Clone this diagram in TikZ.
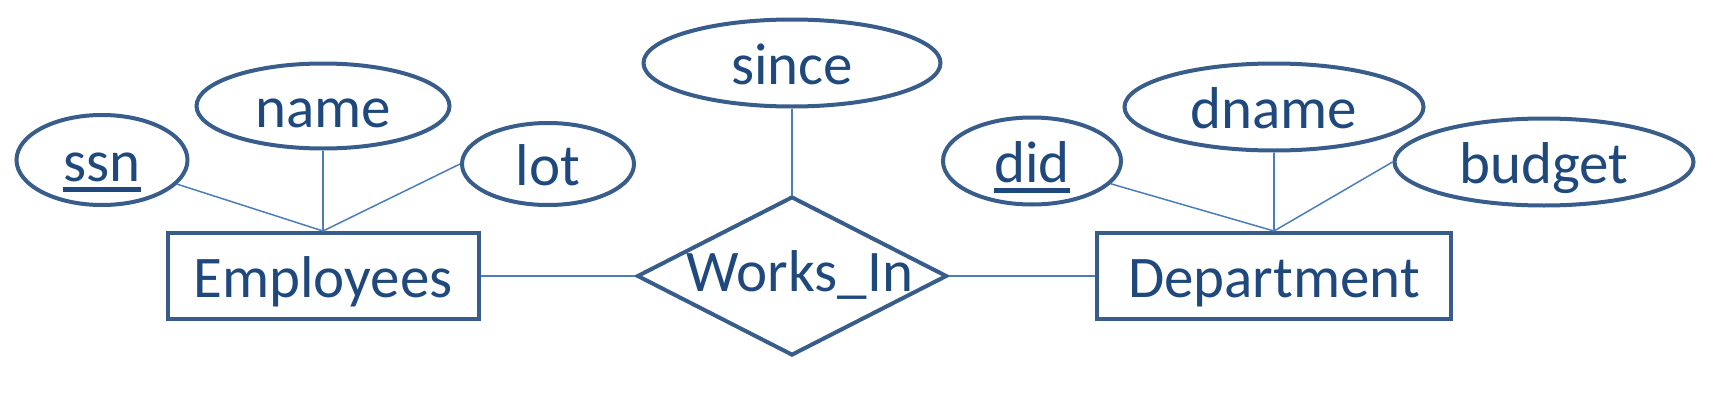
\documentclass[tikz,border=0pt]{standalone}
\usepackage{fontspec}
\setmainfont{Carlito}
\usetikzlibrary{positioning,shapes.geometric}
\definecolor{edgeblue}{HTML}{385D8A}
\definecolor{txtblue}{HTML}{1F497D}
\definecolor{lineblue}{HTML}{4A7EBB}
\newcommand{\keyattr}[1]{\setbox0\hbox{#1}\rlap{\rule[-5.3pt]{\wd0}{2.5pt}}\box0}
\begin{document}
\begin{tikzpicture}[
  on grid,
  er/.style={draw=edgeblue,line width=2pt,text=txtblue,inner sep=0pt,
             font=\fontsize{29.5}{35}\selectfont,text height=21pt,text depth=0pt},
  entity/.style={er,rectangle,minimum height=43pt},
  attr/.style={er,ellipse,minimum height=43.5pt},
  rel/.style={er,diamond,minimum width=155pt,minimum height=79.5pt,text height=15pt},
  ln/.style={draw=lineblue,line width=0.75pt}]
\useasboundingbox (0,0) rectangle (862pt,-206pt);
\node[entity,minimum width=155.5pt] (emp) at (161.5pt,-138pt) {Employees};
\node[rel,right=234.5pt of emp] (works) {\makebox[0pt]{\hspace{8pt}Works\_In}};
\node[entity,minimum width=177pt,right=241pt of works] (dept) {Department};
\node[attr,minimum width=85.5pt,minimum height=45pt,above left=58pt and 110.5pt of emp] (ssn) {\keyattr{ssn}};
\node[attr,minimum width=126.5pt,minimum height=42.5pt,above=85pt of emp] (name) {name};
\node[attr,minimum width=86pt,minimum height=41pt,above right=56pt and 112.5pt of emp] (lot) {lot};
\node[attr,minimum width=148.5pt,above=106.5pt of works] (since) {since};
\node[attr,minimum width=89pt,above left=57.5pt and 121pt of dept] (did) {\keyattr{did}};
\node[attr,minimum width=149.5pt,above=84.5pt of dept] (dname) {dname};
\node[attr,minimum width=149.5pt,above right=57pt and 135pt of dept] (budget) {budget};
\draw[ln] (ssn) -- (emp.north);
\draw[ln] (name) -- (emp.north);
\draw[ln] (lot.west) -- (emp.north);
\draw[ln] (since) -- (works.north);
\draw[ln] (emp) -- (works);
\draw[ln] (works) -- (dept);
\draw[ln] (did) -- (dept.north);
\draw[ln] (dname) -- (dept.north);
\draw[ln] (budget.west) -- (dept.north);
\end{tikzpicture}
\end{document}
